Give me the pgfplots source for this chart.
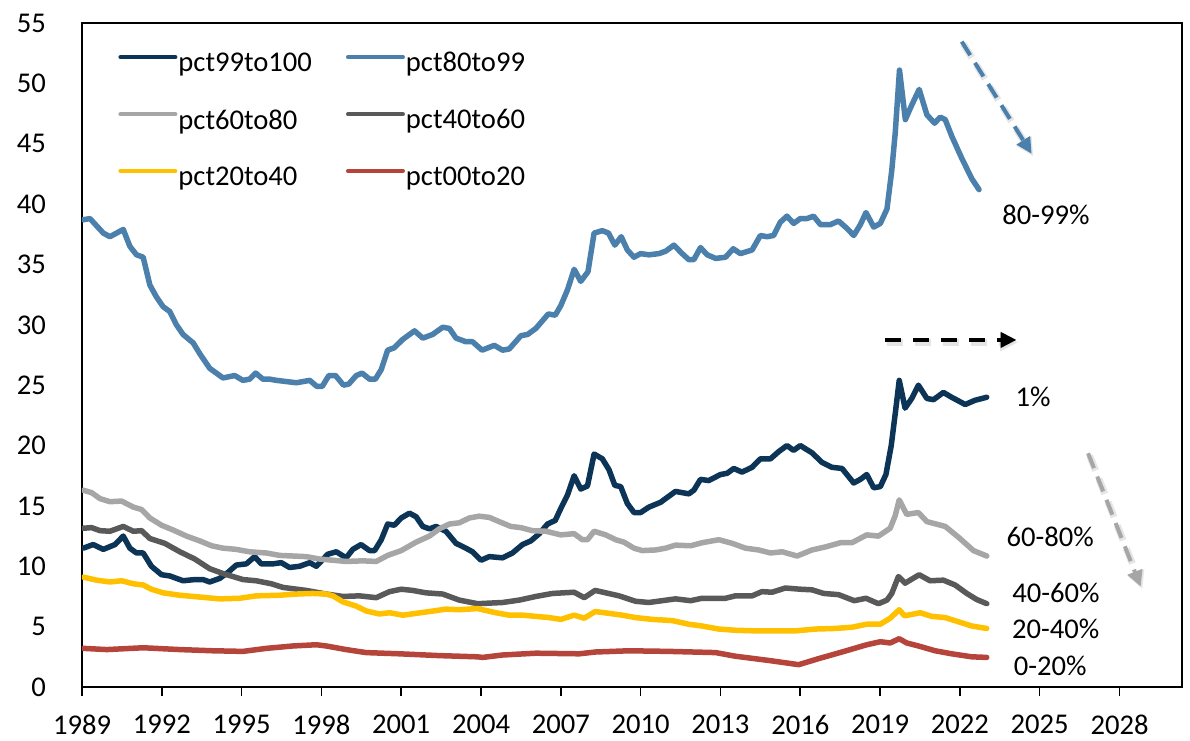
\documentclass[border=0pt]{standalone}
\usepackage{fontspec}
\setmainfont{Carlito}
\usepackage{pgfplots}
\pgfplotsset{compat=1.18}
\usetikzlibrary{arrows.meta}
\definecolor{cNavy}{HTML}{0C3456}
\definecolor{cBlue}{HTML}{4A80AB}
\definecolor{cLGray}{HTML}{A6A6A6}
\definecolor{cDGray}{HTML}{595959}
\definecolor{cYellow}{HTML}{FFC000}
\definecolor{cRed}{HTML}{B5453B}
\newcommand{\lblfont}{\fontsize{14.3}{16}\selectfont}
\begin{document}
\begin{tikzpicture}
\path[use as bounding box] (-41pt,-26.5pt) rectangle (554pt,343.5pt);
\begin{axis}[
  scale only axis, width=550pt, height=332pt,
  xmin=1989, xmax=2030.35, ymin=0, ymax=55,
  xtick={1989,1992,...,2028}, ytick={0,5,...,55},
  xtick pos=lower, ytick pos=left,
  axis line style={line width=0.8pt},
  xtick style={line width=0.8pt, black},
  ytick style={draw=none},
  tick align=outside, major tick length=4.5pt,
  /pgf/number format/assume math mode=true,
  /pgf/number format/1000 sep={},
  tick label style={font=\lblfont},
  xticklabel style={yshift=-6pt},
  yticklabel style={xshift=-10pt},
  every axis plot/.append style={line width=2.75pt, line join=round, line cap=round, mark=none},
  legend columns=2,
  legend cell align=left,
  legend image code/.code={\draw[#1, line width=2pt] (0pt,3.3pt) -- (27.5pt,3.3pt);},
  legend style={draw=none, fill=none, font=\lblfont, inner sep=0pt,
    at={(rel axis cs:0,1)}, anchor=north west, xshift=18pt, yshift=-14.5pt,
    row sep=17.3pt,
    nodes={inner sep=0pt},
    /tikz/every odd column/.append style={column sep=0.5pt},
    /tikz/every even column/.append style={column sep=17pt}},
]
% pct99to100
\addplot[cNavy] table {
1989.05 11.5
1989.42 11.8
1989.80 11.4
1990.24 11.8
1990.55 12.5
1990.80 11.5
1991.05 11.1
1991.30 11.1
1991.61 10.0
1991.99 9.3
1992.30 9.2
1992.80 8.8
1993.24 8.9
1993.55 8.9
1993.80 8.7
1994.18 9.0
1994.49 9.5
1994.80 10.1
1995.18 10.2
1995.49 10.8
1995.74 10.2
1996.18 10.2
1996.49 10.3
1996.80 9.9
1997.18 10.0
1997.56 10.3
1997.81 10.0
1998.24 11.0
1998.56 11.2
1998.93 10.7
1999.18 11.4
1999.49 11.8
1999.81 11.3
2000.00 11.3
2000.25 12.2
2000.49 13.5
2000.74 13.4
2001.00 14.0
2001.31 14.4
2001.56 14.1
2001.81 13.3
2002.06 13.1
2002.31 13.3
2002.68 12.9
2003.06 11.9
2003.43 11.5
2003.68 11.2
2004.00 10.5
2004.31 10.8
2004.81 10.7
2005.18 11.1
2005.56 11.8
2005.87 12.1
2006.19 12.7
2006.50 13.5
2006.79 13.8
2007.00 14.8
2007.25 15.9
2007.50 17.5
2007.75 16.4
2008.00 16.65
2008.25 19.3
2008.56 18.9
2008.81 18.0
2009.03 16.7
2009.25 16.6
2009.50 15.2
2009.75 14.45
2010.00 14.45
2010.31 14.9
2010.75 15.3
2011.06 15.8
2011.31 16.2
2011.81 16.0
2012.00 16.3
2012.25 17.2
2012.56 17.1
2013.00 17.6
2013.25 17.7
2013.50 18.1
2013.81 17.8
2014.19 18.2
2014.50 18.9
2014.88 18.9
2015.19 19.5
2015.50 20.0
2015.75 19.6
2016.00 20.0
2016.44 19.4
2016.82 18.6
2017.19 18.2
2017.57 18.1
2018.01 16.9
2018.26 17.2
2018.50 17.6
2018.76 16.5
2019.01 16.6
2019.22 17.6
2019.42 20.0
2019.59 23.0
2019.72 25.4
2019.94 23.1
2020.19 23.9
2020.44 25.0
2020.76 23.9
2021.01 23.8
2021.38 24.4
2021.69 24.0
2022.20 23.4
2022.57 23.75
2023.01 24.0
};
\addlegendentry{pct99to100}
% pct80to99
\addplot[cBlue] table {
1989.03 38.7
1989.30 38.8
1989.80 37.6
1990.05 37.3
1990.55 37.9
1990.80 36.5
1991.05 35.8
1991.30 35.6
1991.55 33.3
1991.80 32.3
1992.05 31.5
1992.30 31.1
1992.55 30.0
1992.80 29.2
1993.18 28.5
1993.43 27.6
1993.80 26.4
1994.30 25.6
1994.74 25.8
1995.05 25.4
1995.30 25.5
1995.53 26.0
1995.80 25.5
1996.05 25.5
1996.31 25.4
1997.06 25.2
1997.56 25.4
1997.83 24.9
1998.03 24.9
1998.28 25.8
1998.53 25.8
1998.83 25.0
1999.03 25.1
1999.31 25.8
1999.53 26.0
1999.81 25.5
2000.03 25.5
2000.25 26.3
2000.49 27.9
2000.74 28.1
2001.06 28.8
2001.50 29.5
2001.81 28.9
2002.18 29.2
2002.56 29.8
2002.81 29.7
2003.06 28.9
2003.43 28.6
2003.68 28.6
2004.04 27.9
2004.50 28.3
2004.81 27.9
2005.06 28.0
2005.50 29.1
2005.75 29.2
2006.06 29.7
2006.53 30.9
2006.79 30.8
2007.00 31.6
2007.25 32.9
2007.50 34.6
2007.75 33.6
2008.02 34.4
2008.25 37.6
2008.56 37.8
2008.79 37.6
2009.03 36.6
2009.27 37.3
2009.50 36.2
2009.75 35.6
2010.00 35.9
2010.31 35.8
2010.69 35.9
2010.94 36.1
2011.25 36.6
2011.56 35.9
2011.81 35.4
2012.00 35.4
2012.25 36.4
2012.50 35.8
2012.82 35.5
2013.19 35.6
2013.48 36.3
2013.75 35.9
2014.19 36.2
2014.50 37.4
2014.75 37.3
2015.00 37.4
2015.25 38.5
2015.50 39.0
2015.75 38.4
2016.00 38.8
2016.25 38.8
2016.50 39.0
2016.76 38.3
2017.13 38.3
2017.44 38.6
2017.75 38.0
2018.01 37.4
2018.26 38.3
2018.47 39.3
2018.76 38.1
2019.01 38.4
2019.26 39.6
2019.44 42.8
2019.57 45.9
2019.73 51.1
2019.95 47.0
2020.19 48.2
2020.47 49.5
2020.76 47.4
2021.05 46.7
2021.26 47.2
2021.45 47.0
2021.70 45.6
2022.07 43.8
2022.45 42.1
2022.72 41.2
};
\addlegendentry{pct80to99}
% pct60to80
\addplot[cLGray] table {
1989.05 16.3
1989.36 16.1
1989.68 15.6
1990.05 15.35
1990.49 15.4
1990.93 14.9
1991.24 14.7
1991.55 14.0
1991.99 13.4
1992.43 13.0
1992.93 12.5
1993.43 12.1
1993.87 11.7
1994.30 11.5
1994.80 11.4
1995.30 11.2
1995.93 11.1
1996.43 10.9
1997.43 10.8
1997.93 10.6
1998.43 10.5
1998.93 10.4
1999.55 10.45
2000.06 10.4
2000.49 10.9
2001.00 11.3
2001.56 12.0
2002.06 12.5
2002.43 13.1
2002.81 13.5
2003.18 13.6
2003.56 14.0
2003.93 14.15
2004.31 14.05
2004.68 13.7
2005.12 13.3
2005.50 13.2
2005.93 12.95
2006.44 12.9
2007.00 12.6
2007.50 12.7
2007.81 12.2
2008.00 12.2
2008.25 12.9
2008.69 12.6
2009.06 12.2
2009.37 12.0
2009.75 11.5
2010.06 11.3
2010.56 11.35
2010.94 11.5
2011.31 11.75
2011.88 11.7
2012.31 11.95
2012.94 12.2
2013.44 11.9
2013.94 11.5
2014.44 11.35
2014.88 11.1
2015.32 11.2
2015.88 10.85
2016.44 11.35
2016.94 11.6
2017.51 11.95
2017.94 11.95
2018.50 12.6
2018.94 12.5
2019.38 13.15
2019.57 14.2
2019.72 15.5
2020.00 14.3
2020.44 14.45
2020.76 13.7
2021.45 13.3
2021.95 12.4
2022.51 11.3
2023.01 10.85
};
\addlegendentry{pct60to80}
% pct40to60
\addplot[cDGray] table {
1989.05 13.15
1989.36 13.2
1989.68 12.95
1990.05 12.9
1990.55 13.3
1990.93 12.9
1991.24 12.95
1991.55 12.3
1992.11 11.9
1992.68 11.2
1993.24 10.6
1993.80 9.8
1994.30 9.4
1995.05 8.9
1995.55 8.8
1996.12 8.55
1996.55 8.25
1997.43 8.0
1998.18 7.7
1998.81 7.5
1999.43 7.55
2000.06 7.4
2000.56 7.9
2001.00 8.1
2001.43 8.0
2001.93 7.8
2002.56 7.7
2003.18 7.2
2003.87 6.9
2004.81 7.0
2005.44 7.2
2006.06 7.5
2006.69 7.75
2007.50 7.85
2007.88 7.4
2008.29 8.0
2008.69 7.8
2009.19 7.55
2009.81 7.1
2010.31 7.0
2010.81 7.15
2011.31 7.3
2011.88 7.15
2012.31 7.35
2013.19 7.35
2013.56 7.55
2014.19 7.55
2014.56 7.9
2014.94 7.85
2015.44 8.2
2016.00 8.1
2016.44 8.05
2016.88 7.75
2017.44 7.65
2018.03 7.15
2018.47 7.35
2018.94 6.9
2019.26 7.2
2019.44 7.75
2019.69 9.15
2019.94 8.6
2020.47 9.3
2020.88 8.8
2021.38 8.85
2021.82 8.45
2022.26 7.75
2022.63 7.25
2023.01 6.9
};
\addlegendentry{pct40to60}
% pct20to40
\addplot[cYellow] table {
1989.05 9.1
1989.55 8.85
1990.05 8.7
1990.49 8.8
1990.93 8.55
1991.30 8.45
1991.61 8.1
1992.05 7.8
1992.68 7.6
1993.43 7.45
1994.18 7.3
1994.93 7.35
1995.55 7.55
1996.43 7.6
1997.06 7.7
1997.68 7.75
1998.18 7.7
1998.43 7.55
1998.81 7.05
1999.31 6.7
1999.68 6.3
2000.18 6.05
2000.56 6.15
2001.06 5.95
2001.56 6.1
2002.06 6.25
2002.68 6.45
2003.18 6.4
2003.87 6.5
2004.06 6.4
2004.56 6.15
2005.06 5.95
2005.56 5.95
2006.06 5.85
2006.56 5.75
2007.00 5.6
2007.50 5.95
2007.88 5.7
2008.29 6.25
2008.81 6.1
2009.31 5.95
2009.81 5.75
2010.44 5.6
2011.19 5.5
2011.81 5.2
2012.31 5.05
2012.94 4.8
2013.56 4.7
2014.31 4.65
2015.07 4.65
2015.82 4.65
2016.57 4.8
2017.32 4.85
2017.94 4.95
2018.50 5.2
2019.01 5.2
2019.38 5.7
2019.72 6.4
2019.92 5.9
2020.51 6.15
2020.94 5.85
2021.45 5.75
2021.95 5.4
2022.45 5.05
2023.01 4.85
};
\addlegendentry{pct20to40}
% pct00to20
\addplot[cRed] table {
1989.05 3.2
1989.93 3.1
1991.30 3.25
1992.68 3.1
1993.93 3.0
1995.05 2.95
1995.93 3.2
1996.93 3.4
1997.81 3.5
1998.18 3.4
1998.93 3.1
1999.68 2.85
2000.93 2.75
2002.43 2.6
2003.87 2.5
2004.06 2.45
2004.81 2.65
2006.06 2.8
2007.69 2.75
2008.31 2.9
2009.56 3.0
2011.06 2.95
2012.82 2.85
2013.56 2.55
2014.81 2.2
2015.94 1.85
2016.69 2.35
2017.57 2.9
2018.50 3.5
2019.01 3.75
2019.38 3.65
2019.72 4.0
2020.00 3.65
2020.44 3.4
2021.07 3.0
2021.69 2.75
2022.45 2.5
2023.01 2.45
};
\addlegendentry{pct00to20}
% annotation arrows (with soft shadows)
\draw[black, opacity=0.1, line width=3.5pt, dash pattern=on 8pt off 4.5pt, -{Triangle[length=9pt,width=8.5pt]}, transform canvas={shift={(0.8pt,-1.2pt)}}] (axis cs:2022.07,53.46) -- (axis cs:2024.70,44.16);
\draw[cBlue, line width=2pt, dash pattern=on 8pt off 4.5pt, -{Triangle[length=8pt,width=7.5pt]}] (axis cs:2022.07,53.46) -- (axis cs:2024.70,44.16);
\draw[black, opacity=0.1, line width=3.5pt, dash pattern=on 8pt off 6pt, -{Triangle[length=9pt,width=8.5pt]}, transform canvas={shift={(0.8pt,-1.2pt)}}] (axis cs:2019.19,28.75) -- (axis cs:2024.13,28.75);
\draw[black, line width=2pt, dash pattern=on 8pt off 6pt, -{Triangle[length=8pt,width=7.5pt]}] (axis cs:2019.19,28.75) -- (axis cs:2024.13,28.75);
\draw[black, opacity=0.1, line width=3.5pt, dash pattern=on 8pt off 4.5pt, -{Triangle[length=9pt,width=8.5pt]}, transform canvas={shift={(0.8pt,-1.2pt)}}] (axis cs:2026.82,19.36) -- (axis cs:2028.80,8.31);
\draw[cLGray, line width=2pt, dash pattern=on 8pt off 4.5pt, -{Triangle[length=8pt,width=7.5pt]}] (axis cs:2026.82,19.36) -- (axis cs:2028.80,8.31);
% labels
\node[anchor=west, inner sep=0pt, font=\lblfont] at (axis cs:2023.58,39.1) {80-99\%};
\node[anchor=west, inner sep=0pt, font=\lblfont] at (axis cs:2024.08,24.05) {1\%};
\node[anchor=west, inner sep=0pt, font=\lblfont] at (axis cs:2023.74,12.4) {60-80\%};
\node[anchor=west, inner sep=0pt, font=\lblfont] at (axis cs:2023.96,7.76) {40-60\%};
\node[anchor=west, inner sep=0pt, font=\lblfont] at (axis cs:2023.95,4.78) {20-40\%};
\node[anchor=west, inner sep=0pt, font=\lblfont] at (axis cs:2024.01,1.74) {0-20\%};
\end{axis}
\end{tikzpicture}
\end{document}
